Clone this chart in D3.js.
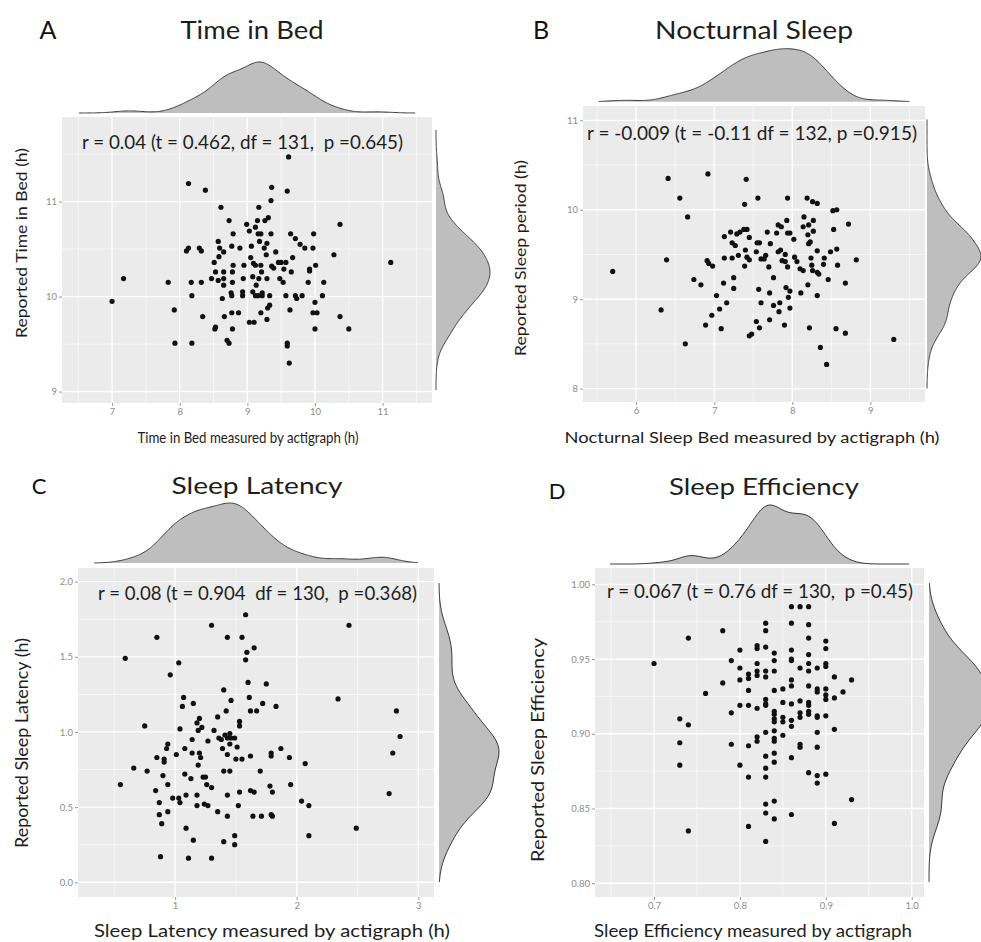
<!DOCTYPE html>
<html><head><meta charset="utf-8">
<script src="https://cdn.jsdelivr.net/npm/d3@7"></script>
<style>
body{margin:0;background:#fff}
svg{display:block}
text{font-family:Lato,"Open Sans",sans-serif}
.ws{white-space:pre}
</style>
</head><body>
<svg id="chart" width="981" height="942"></svg>
<script>
// ---------- DATA ----------
// Panel A: Time in Bed
const timeBedActigraph = [9.61,8.13,8.38,9.36,9.59,9.35,8.61,9.17,8.73,8.99,9.15,9.26,9.31,9.12,9.03,8.79,9.16,9.20,9.35,9.64,9.71,9.98,10.37,8.57,9.18,9.78,9.85,9.97,8.13,8.10,8.29,8.32,8.59,8.65,8.77,8.89,9.06,9.25,9.29,9.42,9.28,8.58,9.05,10.28,8.51,8.95,8.79,9.09,9.12,9.20,9.36,9.46,9.50,9.57,9.67,9.39,9.54,10.01,9.92,9.92,11.12,7.17,7.83,8.17,8.32,8.47,8.53,8.57,8.65,8.65,8.78,8.65,8.78,8.94,9.08,9.13,9.17,9.21,9.29,9.48,9.53,9.65,9.90,10.13,7.00,7.92,8.18,8.63,8.76,8.77,8.93,8.93,9.08,9.12,9.16,9.22,9.22,9.33,9.33,9.30,9.57,9.71,9.73,9.81,10.11,10.00,9.63,8.34,8.66,8.77,8.87,9.20,9.03,9.10,9.29,9.97,10.03,10.37,10.50,10.00,8.52,8.53,8.78,7.93,8.18,8.70,8.73,9.59,9.59,9.62];
const timeBedReported = [11.47,11.19,11.12,11.15,11.11,11.01,10.94,10.94,10.80,10.76,10.80,10.80,10.83,10.73,10.69,10.66,10.66,10.66,10.66,10.66,10.61,10.66,10.76,10.58,10.58,10.55,10.51,10.51,10.51,10.48,10.51,10.48,10.51,10.47,10.53,10.51,10.53,10.51,10.56,10.47,10.44,10.42,10.41,10.44,10.36,10.33,10.33,10.35,10.33,10.33,10.32,10.36,10.36,10.36,10.41,10.30,10.29,10.33,10.29,10.27,10.36,10.19,10.15,10.15,10.15,10.19,10.26,10.17,10.26,10.19,10.26,10.12,10.15,10.19,10.21,10.12,10.19,10.26,10.19,10.19,10.15,10.26,10.15,10.15,9.95,9.86,10.01,9.98,10.04,10.01,10.05,10.01,10.05,10.01,10.01,10.04,10.01,10.01,9.91,9.88,10.01,10.01,9.98,10.01,10.01,9.94,9.86,9.79,9.79,9.83,9.83,9.83,9.73,9.73,9.76,9.83,9.83,9.79,9.66,9.66,9.66,9.68,9.66,9.51,9.51,9.54,9.51,9.51,9.48,9.30];

// Panel B: Nocturnal Sleep
const nocturnalActigraph = [5.70,6.41,6.56,6.66,6.39,6.32,6.63,6.92,7.41,7.39,7.56,7.94,8.19,8.26,8.32,8.52,8.57,8.72,8.15,7.93,7.82,7.86,8.21,8.27,8.14,8.02,7.94,7.97,7.80,7.68,8.27,8.20,8.53,7.13,7.21,7.29,7.33,7.38,7.42,7.45,7.23,7.27,7.40,7.55,7.58,7.54,7.72,7.85,7.82,7.91,8.21,8.23,8.32,8.49,8.57,7.13,7.23,7.31,7.42,7.45,7.39,7.60,7.64,7.66,7.70,7.87,7.91,7.94,8.03,8.06,8.10,8.14,8.24,8.25,8.26,8.32,8.34,8.40,8.41,8.58,8.82,6.91,6.93,6.98,6.74,6.83,7.25,7.25,7.12,7.03,7.16,7.07,6.97,6.89,7.09,7.45,7.48,7.58,7.54,7.57,7.60,7.71,7.76,7.76,7.71,7.84,7.83,7.90,7.92,7.95,7.97,7.97,8.11,8.20,8.22,8.32,8.46,8.68,8.56,8.68,8.36,8.44,9.30];
const nocturnalReported = [9.31,10.35,10.13,9.92,9.44,8.88,8.50,10.40,10.34,10.06,10.13,10.13,10.13,10.09,10.07,9.99,10.00,9.84,9.92,9.88,9.83,9.81,9.83,9.88,9.81,9.67,9.74,9.74,9.74,9.75,9.76,9.72,9.78,9.70,9.75,9.73,9.75,9.78,9.78,9.69,9.63,9.60,9.55,9.63,9.63,9.53,9.62,9.55,9.53,9.50,9.62,9.64,9.54,9.53,9.56,9.46,9.46,9.49,9.47,9.44,9.37,9.45,9.45,9.49,9.36,9.43,9.42,9.36,9.47,9.42,9.34,9.32,9.46,9.38,9.32,9.30,9.28,9.39,9.46,9.38,9.44,9.43,9.40,9.37,9.22,9.16,9.24,9.12,9.18,9.04,8.96,8.89,8.82,8.71,8.67,8.59,8.61,8.68,8.75,9.11,8.96,9.07,9.24,8.93,8.77,8.96,8.86,8.71,9.13,9.02,9.09,8.90,9.07,9.16,8.68,9.04,9.22,9.18,8.67,8.62,8.46,8.27,8.55];

// Panel C: Sleep Latency
const latencyActigraph = [1.58,1.30,2.43,0.85,1.43,1.55,1.65,1.59,1.58,0.59,1.03,0.96,1.60,1.75,1.40,1.07,1.61,1.46,2.34,1.06,1.15,1.72,1.83,1.62,1.67,1.42,1.35,2.82,1.20,1.18,1.53,1.53,0.75,1.04,1.19,1.22,1.32,1.45,1.43,1.41,1.46,1.49,2.85,1.36,1.38,1.14,1.27,0.94,0.93,1.08,1.39,1.45,1.51,1.87,1.01,1.14,1.20,1.21,1.43,1.62,1.79,1.79,1.94,2.79,0.85,0.91,0.91,1.50,1.55,1.19,2.07,0.66,0.77,1.08,1.40,1.45,1.70,0.90,1.13,1.23,1.25,0.55,0.94,1.26,1.30,0.84,1.62,1.65,1.78,1.80,1.53,1.95,2.76,0.98,1.03,1.04,1.09,1.18,1.43,0.87,1.18,1.24,1.27,1.52,2.04,2.10,0.94,1.35,0.87,1.43,1.64,1.71,1.79,1.80,0.89,1.09,2.49,1.49,2.10,1.15,1.40,1.49,0.88,1.11,1.30];
const latencyReported = [1.78,1.71,1.71,1.63,1.63,1.63,1.56,1.53,1.48,1.49,1.46,1.38,1.33,1.32,1.28,1.23,1.23,1.21,1.22,1.17,1.19,1.19,1.17,1.14,1.14,1.14,1.10,1.14,1.09,1.06,1.07,1.04,1.04,1.02,1.01,1.03,1.01,0.99,0.96,0.98,0.96,0.96,0.97,0.96,0.95,0.95,0.94,0.92,0.89,0.89,0.89,0.92,0.90,0.89,0.85,0.86,0.86,0.83,0.85,0.84,0.86,0.84,0.83,0.86,0.83,0.82,0.80,0.82,0.82,0.78,0.79,0.76,0.74,0.72,0.74,0.74,0.74,0.71,0.69,0.70,0.70,0.65,0.65,0.65,0.63,0.61,0.61,0.60,0.64,0.60,0.60,0.65,0.59,0.56,0.56,0.53,0.58,0.58,0.58,0.53,0.51,0.52,0.51,0.51,0.54,0.51,0.47,0.47,0.45,0.44,0.44,0.44,0.45,0.44,0.39,0.36,0.36,0.31,0.31,0.28,0.27,0.25,0.17,0.16,0.16];

// Panel D: Sleep Efficiency
const efficiencyActigraph = [0.70,0.74,0.73,0.74,0.73,0.73,0.74,0.76,0.78,0.78,0.79,0.79,0.79,0.80,0.80,0.80,0.80,0.80,0.81,0.81,0.81,0.81,0.81,0.81,0.81,0.82,0.82,0.82,0.82,0.82,0.82,0.82,0.82,0.83,0.83,0.83,0.83,0.83,0.83,0.83,0.83,0.83,0.83,0.83,0.83,0.83,0.83,0.83,0.84,0.84,0.84,0.84,0.84,0.84,0.84,0.84,0.84,0.84,0.84,0.84,0.84,0.84,0.84,0.85,0.85,0.85,0.85,0.85,0.86,0.87,0.86,0.86,0.86,0.86,0.86,0.86,0.86,0.86,0.86,0.86,0.86,0.87,0.87,0.87,0.87,0.87,0.87,0.88,0.88,0.88,0.88,0.88,0.88,0.88,0.88,0.88,0.88,0.88,0.88,0.89,0.89,0.89,0.89,0.89,0.89,0.89,0.89,0.89,0.90,0.90,0.90,0.90,0.90,0.90,0.90,0.90,0.90,0.91,0.91,0.91,0.91,0.92,0.93,0.93];
const efficiencyReported = [0.947,0.964,0.910,0.906,0.894,0.879,0.835,0.927,0.969,0.934,0.949,0.914,0.893,0.956,0.944,0.936,0.919,0.879,0.940,0.937,0.929,0.919,0.892,0.871,0.838,0.959,0.957,0.947,0.942,0.939,0.917,0.898,0.895,0.974,0.969,0.958,0.942,0.938,0.923,0.920,0.919,0.901,0.885,0.877,0.871,0.853,0.847,0.828,0.954,0.949,0.942,0.929,0.915,0.913,0.910,0.908,0.902,0.897,0.895,0.887,0.881,0.855,0.843,0.930,0.921,0.911,0.908,0.899,0.985,0.985,0.974,0.956,0.950,0.949,0.936,0.932,0.920,0.909,0.905,0.884,0.846,0.944,0.922,0.914,0.911,0.893,0.891,0.985,0.973,0.964,0.953,0.947,0.942,0.932,0.921,0.919,0.915,0.913,0.874,0.944,0.930,0.928,0.912,0.911,0.901,0.891,0.872,0.867,0.962,0.957,0.947,0.945,0.930,0.926,0.923,0.912,0.873,0.938,0.924,0.903,0.840,0.928,0.936,0.856];

// Tick labels
const ticksAx = [7,8,9,10,11],  ticksAy = [9,10,11];
const ticksBx = [6,7,8,9],      ticksBy = [8,9,10,11];
const ticksCx = [1,2,3],        ticksCy = [0,0.5,1.0,1.5,2.0];
const ticksDx = [0.7,0.8,0.9,1.0], ticksDy = [0.80,0.85,0.90,0.95,1.00];

// Texts
const panelLetters = ["A","B","C","D"];
const panelTitles = ["Time in Bed","Nocturnal Sleep","Sleep Latency","Sleep Efficiency"];
const statTexts = [
  "r = 0.04 (t = 0.462, df = 131,  p =0.645)",
  "r = -0.009 (t = -0.11 df = 132, p =0.915)",
  "r = 0.08 (t = 0.904  df = 130,  p =0.368)",
  "r = 0.067 (t = 0.76 df = 130,  p =0.45)"
];
const xTitles = ["Time in Bed measured by actigraph (h)","Nocturnal Sleep Bed measured by actigraph (h)","Sleep Latency measured by actigraph (h)","Sleep Efficiency measured by actigraph"];
const yTitles = ["Reported Time in Bed (h)","Reported Sleep period (h)","Reported Sleep Latency (h)","Reported Sleep Efficiency"];

// ---------- LAYOUT ----------
const panels = [
  {xs:timeBedActigraph, ys:timeBedReported, xt:ticksAx, yt:ticksAy, xf:d3.format("d"), yf:d3.format("d"),
   box:{x0:62,x1:432,y0:117,y1:403}, xDom:[6.26,11.73], yDom:[8.88,11.89],
   top:{base:113,h:51}, right:{base:436,h:54},
   letter:{x:48,y:39,fs:25}, title:{x:252,y:39,fs:25,len:143},
   stat:{x:82,y:149,fs:20,len:321},
   xTitle:{x:248,y:443,fs:16,len:221}, yTitle:{x:27,y:243,fs:16,len:190}, tickFs:9.5, xTickDy:11},
  {xs:nocturnalActigraph, ys:nocturnalReported, xt:ticksBx, yt:ticksBy, xf:d3.format("d"), yf:d3.format("d"),
   box:{x0:583,x1:925,y0:106,y1:402}, xDom:[5.32,9.70], yDom:[7.85,11.16],
   top:{base:101.7,h:53}, right:{base:927,h:54},
   letter:{x:541,y:39,fs:25}, title:{x:754,y:39,fs:25,len:198},
   stat:{x:587,y:140,fs:20,len:330},
   xTitle:{x:752,y:443,fs:16,len:375}, yTitle:{x:526,y:258,fs:16,len:196}, tickFs:9.5, xTickDy:11},
  {xs:latencyActigraph, ys:latencyReported, xt:ticksCx, yt:ticksCy, xf:d3.format("d"), yf:d3.format(".1f"),
   box:{x0:78,x1:434,y0:568,y1:897}, xDom:[0.2015,3.129], yDom:[-0.098,2.091],
   top:{base:563,h:60}, right:{base:439,h:60},
   letter:{x:39,y:494,fs:22}, title:{x:257,y:494,fs:23,len:171},
   stat:{x:98,y:600,fs:20,len:319},
   xTitle:{x:272,y:937,fs:18,len:356}, yTitle:{x:28,y:743,fs:17,len:210}, tickFs:9.5, xTickDy:9},
  {xs:efficiencyActigraph, ys:efficiencyReported, xt:ticksDx, yt:ticksDy, xf:d3.format(".1f"), yf:d3.format(".2f"),
   box:{x0:595,x1:924,y0:568,y1:897}, xDom:[0.6313,1.0143], yDom:[0.7908,1.0109],
   top:{base:564,h:59}, right:{base:929,h:60},
   letter:{x:557,y:499,fs:22}, title:{x:764,y:495,fs:23,len:190},
   stat:{x:607,y:598,fs:20,len:306},
   xTitle:{x:753,y:937,fs:18,len:318}, yTitle:{x:544,y:750,fs:17,len:224}, tickFs:9.5, xTickDy:9}
];

const svg = d3.select("#chart");

function bwNrd0(v){
  const s = d3.deviation(v);
  const sorted = v.slice().sort(d3.ascending);
  const iqr = (d3.quantile(sorted,0.75) - d3.quantile(sorted,0.25))/1.34;
  const lo = Math.min(s, iqr) || s;
  return 0.9*lo*Math.pow(v.length,-0.2);
}
function kde(v, lo, hi, n){
  const bw = bwNrd0(v), k = 1/(v.length*bw*Math.sqrt(2*Math.PI));
  return d3.range(n).map(i=>{
    const x = lo + (hi-lo)*i/(n-1);
    let s = 0;
    for (const t of v){ const z=(x-t)/bw; s += Math.exp(-0.5*z*z); }
    return [x, s*k];
  });
}
function minorTicks(ticks, dom){
  const step = ticks[1]-ticks[0];
  const out = [];
  for (let v = ticks[0]-step/2; v < dom[1]; v += step) if (v > dom[0]) out.push(v);
  return out;
}

const textCol = "#1e1e1e";

panels.forEach((p,i)=>{
  const g = svg.append("g");
  const b = p.box;
  const x = d3.scaleLinear().domain(p.xDom).range([b.x0,b.x1]);
  const y = d3.scaleLinear().domain(p.yDom).range([b.y1,b.y0]);

  // panel background
  g.append("rect").attr("x",b.x0).attr("y",b.y0).attr("width",b.x1-b.x0).attr("height",b.y1-b.y0).attr("fill","#ebebeb");
  // minor grid
  const gm = g.append("g").attr("stroke","#fff").attr("stroke-width",0.6);
  minorTicks(p.xt,p.xDom).forEach(v=>gm.append("line").attr("x1",x(v)).attr("x2",x(v)).attr("y1",b.y0).attr("y2",b.y1));
  minorTicks(p.yt,p.yDom).forEach(v=>gm.append("line").attr("y1",y(v)).attr("y2",y(v)).attr("x1",b.x0).attr("x2",b.x1));
  // major grid
  const gM = g.append("g").attr("stroke","#fff").attr("stroke-width",1.3);
  p.xt.forEach(v=>gM.append("line").attr("x1",x(v)).attr("x2",x(v)).attr("y1",b.y0).attr("y2",b.y1));
  p.yt.forEach(v=>gM.append("line").attr("y1",y(v)).attr("y2",y(v)).attr("x1",b.x0).attr("x2",b.x1));

  // axes
  const ax = g.append("g").attr("transform",`translate(0,${b.y1})`)
    .call(d3.axisBottom(x).tickValues(p.xt).tickFormat(p.xf).tickSize(3).tickPadding(2));
  const ay = g.append("g").attr("transform",`translate(${b.x0},0)`)
    .call(d3.axisLeft(y).tickValues(p.yt).tickFormat(p.yf).tickSize(3).tickPadding(2));
  [ax,ay].forEach(a=>{
    a.select(".domain").remove();
    a.selectAll("line").attr("stroke","#9a9a9a");
    a.selectAll("text").attr("fill","#8c8c8c").style("font-size",p.tickFs+"px").style("font-family","Lato,sans-serif");
  });

  // points
  g.append("g").selectAll("circle").data(p.xs.map((v,j)=>[v,p.ys[j]])).join("circle")
    .attr("cx",d=>x(d[0])).attr("cy",d=>y(d[1])).attr("r",2.6).attr("fill","#111");

  // top marginal density
  const dx = kde(p.xs, p.xDom[0], p.xDom[1], 300);
  const mx = d3.max(dx, d=>d[1]);
  const cx = (b.x0+b.x1)/2;
  const sx = v => cx + (x(v)-cx)/1.1;
  const hTop = d3.scaleLinear().domain([0,mx]).range([p.top.base, p.top.base - p.top.h]);
  g.append("path").datum(dx).attr("fill","#bebebe")
    .attr("d", d3.area().x(d=>sx(d[0])).y0(p.top.base).y1(d=>hTop(d[1])).curve(d3.curveBasis));
  g.append("path").datum(dx).attr("fill","none").attr("stroke","#3a3a3a").attr("stroke-width",1)
    .attr("d", d3.line().x(d=>sx(d[0])).y(d=>hTop(d[1])).curve(d3.curveBasis));

  // right marginal density
  const dy = kde(p.ys, p.yDom[0], p.yDom[1], 300);
  const my = d3.max(dy, d=>d[1]);
  const cy = (b.y0+b.y1)/2;
  const sy = v => cy + (y(v)-cy)/1.1;
  const wR = d3.scaleLinear().domain([0,my]).range([p.right.base, p.right.base + p.right.h]);
  g.append("path").datum(dy).attr("fill","#bebebe")
    .attr("d", d3.area().y(d=>sy(d[0])).x0(p.right.base).x1(d=>wR(d[1])).curve(d3.curveBasis));
  g.append("path").datum(dy).attr("fill","none").attr("stroke","#3a3a3a").attr("stroke-width",1)
    .attr("d", d3.line().y(d=>sy(d[0])).x(d=>wR(d[1])).curve(d3.curveBasis));

  // stat text
  g.append("text").attr("class","ws").attr("x",p.stat.x).attr("y",p.stat.y)
    .attr("textLength",p.stat.len).attr("lengthAdjust","spacingAndGlyphs")
    .style("font-size",p.stat.fs+"px").attr("fill",textCol).text(statTexts[i]);

  // letter + title
  g.append("text").attr("x",p.letter.x).attr("y",p.letter.y).attr("text-anchor","middle")
    .style("font-size",p.letter.fs+"px").attr("fill","#111").text(panelLetters[i]);
  g.append("text").attr("x",p.title.x).attr("y",p.title.y).attr("text-anchor","middle")
    .attr("textLength",p.title.len).attr("lengthAdjust","spacingAndGlyphs")
    .style("font-size",p.title.fs+"px").attr("fill",textCol).text(panelTitles[i]);

  // axis titles
  g.append("text").attr("x",p.xTitle.x).attr("y",p.xTitle.y).attr("text-anchor","middle")
    .attr("textLength",p.xTitle.len).attr("lengthAdjust","spacingAndGlyphs")
    .style("font-size",p.xTitle.fs+"px").attr("fill",textCol).text(xTitles[i]);
  g.append("text").attr("transform",`translate(${p.yTitle.x},${p.yTitle.y}) rotate(-90)`)
    .attr("text-anchor","middle")
    .attr("textLength",p.yTitle.len).attr("lengthAdjust","spacingAndGlyphs")
    .style("font-size",p.yTitle.fs+"px").attr("fill",textCol).text(yTitles[i]);
});
</script>
</body></html>
